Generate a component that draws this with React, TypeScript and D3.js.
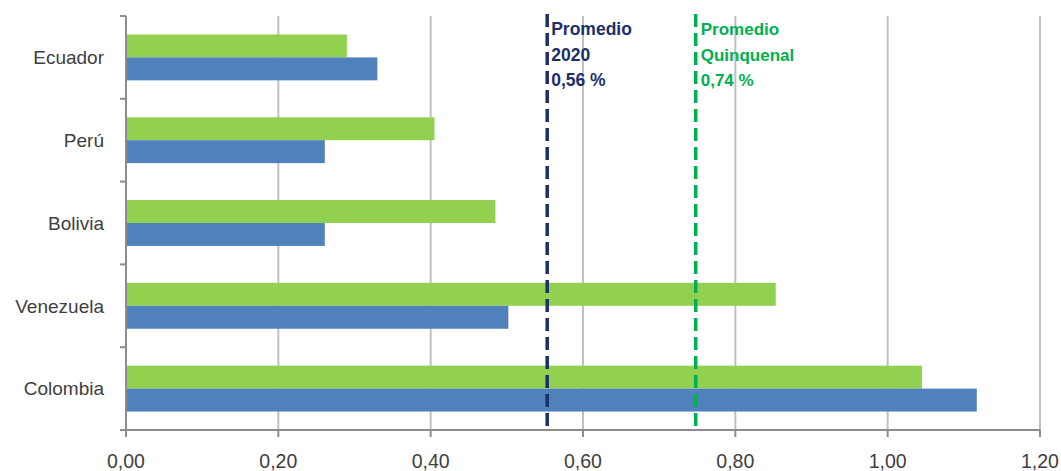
import React from "react";
import * as d3 from "d3";

const categories = ["Ecuador", "Perú", "Bolivia", "Venezuela", "Colombia"];
const quinquenalValues = [0.29, 0.405, 0.485, 0.853, 1.045];
const values2020 = [0.33, 0.261, 0.261, 0.502, 1.117];
const xTicks = [0, 0.2, 0.4, 0.6, 0.8, 1.0, 1.2];
const promedio2020 = 0.553;
const promedioQuinquenal = 0.748;
const label2020 = ["Promedio", "2020", "0,56 %"];
const labelQuinquenal = ["Promedio", "Quinquenal", "0,74 %"];

const W = 1061;
const H = 471;
const margin = { left: 126, right: 21, top: 16, bottom: 41 };

export default function App() {
  const x = d3
    .scaleLinear()
    .domain([0, 1.2])
    .range([margin.left, W - margin.right]);
  const y = d3
    .scaleBand<string>()
    .domain(categories)
    .range([margin.top, H - margin.bottom])
    .paddingInner(0.446)
    .paddingOuter(0.223);
  const step = y.step();
  const bw = y.bandwidth() / 2;
  const y0 = margin.top;
  const y1 = H - margin.bottom;
  const fmt = (v: number) => v.toFixed(2).replace(".", ",");
  const font = "'Liberation Sans', Arial, sans-serif";
  const navy = "#1c2f6b";
  const green = "#00b050";

  return (
    <svg
      width={W}
      height={H}
      style={{ position: "absolute", left: 0, top: 0, background: "#fff" }}
      fontFamily={font}
    >
      {/* gridlines */}
      {xTicks.slice(1).map((t) => (
        <line
          key={"g" + t}
          x1={x(t)}
          x2={x(t)}
          y1={y0}
          y2={y1}
          stroke="#c0c0c0"
          strokeWidth={2}
        />
      ))}
      {/* bars */}
      {categories.map((c, i) => (
        <g key={c}>
          <rect
            x={x(0)}
            y={y(c)!}
            width={x(quinquenalValues[i]) - x(0)}
            height={bw}
            fill="#92d050"
          />
          <rect
            x={x(0)}
            y={y(c)! + bw}
            width={x(values2020[i]) - x(0)}
            height={bw}
            fill="#4f81bd"
          />
        </g>
      ))}
      {/* left axis */}
      <line x1={x(0)} x2={x(0)} y1={y0} y2={y1} stroke="#8c8c8c" strokeWidth={2} />
      {d3.range(categories.length).map((i) => (
        <line
          key={"yt" + i}
          x1={x(0) - 6}
          x2={x(0)}
          y1={y0 + i * step}
          y2={y0 + i * step}
          stroke="#8c8c8c"
          strokeWidth={2}
        />
      ))}
      {/* bottom axis */}
      <line x1={x(0) - 6} x2={x(1.2)} y1={y1} y2={y1} stroke="#8c8c8c" strokeWidth={2} />
      {xTicks.map((t) => (
        <line
          key={"xt" + t}
          x1={x(t)}
          x2={x(t)}
          y1={y1}
          y2={y1 + 7}
          stroke="#8c8c8c"
          strokeWidth={2}
        />
      ))}
      {xTicks.map((t) => (
        <text
          key={"xl" + t}
          x={x(t)}
          y={y1 + 38}
          textAnchor="middle"
          fontSize={19.5}
          fill="#404040"
        >
          {fmt(t)}
        </text>
      ))}
      {categories.map((c) => (
        <text
          key={"yl" + c}
          x={104}
          y={y(c)! + bw}
          dy="0.36em"
          textAnchor="end"
          fontSize={19}
          fill="#404040"
        >
          {c}
        </text>
      ))}
      {/* average lines */}
      <line
        x1={x(promedio2020)}
        x2={x(promedio2020)}
        y1={14}
        y2={y1}
        stroke={navy}
        strokeWidth={3.5}
        strokeDasharray="13,6"
      />
      <line
        x1={x(promedioQuinquenal)}
        x2={x(promedioQuinquenal)}
        y1={14}
        y2={y1}
        stroke={green}
        strokeWidth={3.5}
        strokeDasharray="13,6"
      />
      {label2020.map((s, i) => (
        <text
          key={"a" + i}
          x={x(promedio2020) + 4}
          y={35 + i * 25.5}
          fontSize={17.5}
          fontWeight="bold"
          fill={navy}
        >
          {s}
        </text>
      ))}
      {labelQuinquenal.map((s, i) => (
        <text
          key={"b" + i}
          x={x(promedioQuinquenal) + 5}
          y={35 + i * 25.5}
          fontSize={17}
          fontWeight="bold"
          fill={green}
        >
          {s}
        </text>
      ))}
    </svg>
  );
}
